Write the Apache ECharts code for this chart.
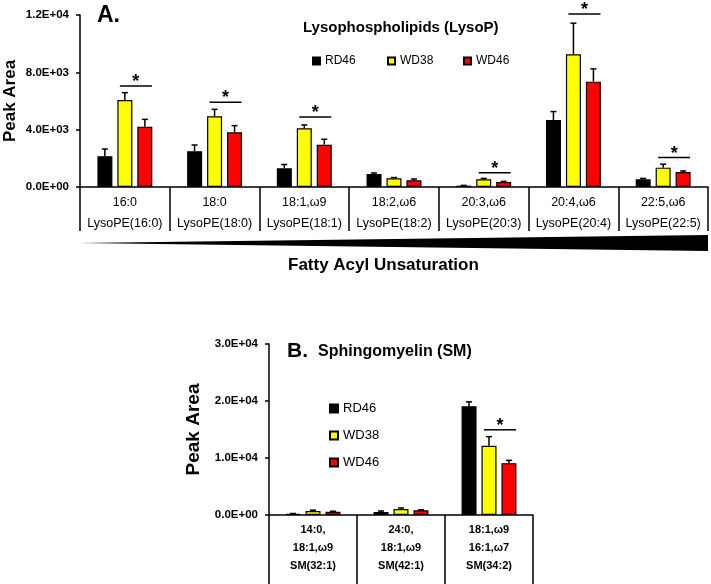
<!DOCTYPE html>
<html>
<head>
<meta charset="utf-8">
<script src="https://cdn.jsdelivr.net/npm/echarts@6/dist/echarts.min.js"></script>
<style>
  html, body { margin: 0; padding: 0; background: #fff; }
  #chart { width: 711px; height: 584px; }
</style>
</head>
<body>
<div id="chart"></div>
<script>
// panel A - lysophospholipids
const lysoAcyl = ['16:0', '18:0', '18:1,ω9', '18:2,ω6', '20:3,ω6', '20:4,ω6', '22:5,ω6'];
const lysoNames = ['LysoPE(16:0)', 'LysoPE(18:0)', 'LysoPE(18:1)', 'LysoPE(18:2)', 'LysoPE(20:3)', 'LysoPE(20:4)', 'LysoPE(22:5)'];
const lysoRD46 = [2150, 2500, 1300, 900, 90, 4680, 540];
const lysoRD46Err = [500, 430, 270, 80, 20, 580, 60];
const lysoWD38 = [6070, 4930, 4100, 610, 540, 9260, 1350];
const lysoWD38Err = [510, 490, 230, 50, 60, 2170, 240];
const lysoWD46 = [4210, 3820, 2950, 470, 350, 7350, 1050];
const lysoWD46Err = [510, 460, 380, 90, 40, 890, 70];
// [category index, height of the bracket]
const lysoSig = [[0, 7050], [1, 5910], [2, 4890], [4, 1000], [5, 12070], [6, 2050]];

// panel B - sphingomyelin
const smAcyl1 = ['14:0,', '24:0,', '18:1,ω9'];
const smAcyl2 = ['18:1,ω9', '18:1,ω9', '16:1,ω7'];
const smNames = ['SM(32:1)', 'SM(42:1)', 'SM(34:2)'];
const smRD46 = [200, 530, 19100];
const smRD46Err = [60, 170, 750];
const smWD38 = [700, 1050, 12150];
const smWD38Err = [150, 180, 1600];
const smWD46 = [580, 820, 9100];
const smWD46Err = [80, 90, 480];
const smSig = [[2, 14950]];

const groups = ['RD46', 'WD38', 'WD46'];
const colors = ['#000000', '#ffff00', '#ff0000'];
const offsets = [-20, 0, 20];
const font = 'Liberation Sans, Arial, sans-serif';

function sciLabel(v) {
    let parts = v.toExponential(1).split('e');
    let e = parseInt(parts[1], 10);
    let sign = e < 0 ? '-' : '+';
    e = Math.abs(e);
    return parts[0] + 'E' + sign + (e < 10 ? '0' + e : e);
}

function errData(vals, errs) {
    return vals.map((v, i) => [i, v, v + errs[i]]);
}

function errSeries(name, xi, vals, errs, offset) {
    return {
        name: name,
        type: 'custom',
        xAxisIndex: xi,
        yAxisIndex: xi,
        z: 5,
        silent: true,
        renderItem: function (params, api) {
            let base = api.coord([api.value(0), api.value(1)]);
            let top = api.coord([api.value(0), api.value(2)]);
            let x = base[0] + offset;
            let st = { stroke: '#000', lineWidth: 1.5 };
            return {
                type: 'group',
                children: [
                    { type: 'line', shape: { x1: x, y1: base[1], x2: x, y2: top[1] }, style: st },
                    { type: 'line', shape: { x1: x - 3, y1: top[1], x2: x + 3, y2: top[1] }, style: st }
                ]
            };
        },
        data: errData(vals, errs)
    };
}

function sigSeries(name, xi, data) {
    return {
        name: name,
        type: 'custom',
        xAxisIndex: xi,
        yAxisIndex: xi,
        z: 6,
        clip: false,
        silent: true,
        renderItem: function (params, api) {
            let p = api.coord([api.value(0), api.value(1)]);
            return {
                type: 'group',
                children: [
                    { type: 'line', shape: { x1: p[0] - 5, y1: p[1], x2: p[0] + 27, y2: p[1] }, style: { stroke: '#000', lineWidth: 1.5 } },
                    { type: 'text', style: { x: p[0] + 11, y: p[1] - 4, text: '*', font: 'bold 18px ' + font, fill: '#000', align: 'center', verticalAlign: 'middle' } }
                ]
            };
        },
        data: data
    };
}

function barSeries(gi, xi, vals) {
    return {
        name: groups[gi],
        type: 'bar',
        xAxisIndex: xi,
        yAxisIndex: xi,
        barWidth: 15,
        barGap: '33%',
        itemStyle: { color: colors[gi], borderColor: '#000', borderWidth: 1.2 },
        data: vals
    };
}

function yAxisCfg(gi, max, interval, nameGap, nameSize) {
    return {
        type: 'value',
        gridIndex: gi,
        min: 0,
        max: max,
        interval: interval,
        name: 'Peak Area',
        nameLocation: 'middle',
        nameGap: nameGap,
        nameMoveOverlap: false,
        nameTextStyle: { fontFamily: font, fontWeight: 'bold', fontSize: nameSize, color: '#000' },
        axisLine: { show: true, lineStyle: { color: '#000', width: 1.5 } },
        axisTick: { show: true, length: 4, lineStyle: { color: '#000', width: 1.5 } },
        splitLine: { show: false },
        axisLabel: { margin: 11, formatter: sciLabel, fontFamily: font, fontWeight: 'bold', fontSize: 11.5, color: '#000' }
    };
}

let myChart = echarts.init(document.getElementById('chart'));
let option = {
    backgroundColor: '#fff',
    animation: false,
    title: [
        { text: 'A.', left: 97, top: 4, padding: 0, textStyle: { fontFamily: font, fontWeight: 'bold', fontSize: 23, color: '#000' } },
        { text: 'Lysophospholipids (LysoP)', left: 303, top: 20, padding: 0, textStyle: { fontFamily: font, fontWeight: 'bold', fontSize: 15, color: '#000' } },
        { text: 'Fatty Acyl Unsaturation', left: 288, top: 257, padding: 0, textStyle: { fontFamily: font, fontWeight: 'bold', fontSize: 17, color: '#000' } },
        { text: 'B.', left: 287, top: 341, padding: 0, textStyle: { fontFamily: font, fontWeight: 'bold', fontSize: 21, color: '#000' } },
        { text: 'Sphingomyelin (SM)', left: 318, top: 344, padding: 0, textStyle: { fontFamily: font, fontWeight: 'bold', fontSize: 16, color: '#000' } }
    ],
    legend: [
        { data: ['RD46'], left: 312, top: 55, padding: 0, itemWidth: 7, itemHeight: 7, icon: 'rect', textStyle: { fontFamily: font, fontSize: 12, color: '#000' } },
        { data: ['WD38'], left: 387, top: 55, padding: 0, itemWidth: 7, itemHeight: 7, icon: 'rect', textStyle: { fontFamily: font, fontSize: 12, color: '#000' } },
        { data: ['WD46'], left: 463, top: 55, padding: 0, itemWidth: 7, itemHeight: 7, icon: 'rect', textStyle: { fontFamily: font, fontSize: 12, color: '#000' } },
        { data: groups, left: 329, top: 402, orient: 'vertical', itemGap: 14, padding: 0, itemWidth: 8, itemHeight: 8, icon: 'rect', textStyle: { fontFamily: font, fontSize: 13, color: '#000' } }
    ],
    grid: [
        { left: 80, top: 15, width: 628, height: 172, containLabel: false, outerBoundsMode: 'none' },
        { left: 269, top: 344, width: 264, height: 171, containLabel: false, outerBoundsMode: 'none' }
    ],
    xAxis: [
        {
            type: 'category',
            gridIndex: 0,
            data: lysoAcyl.map((a, i) => a + '\n' + lysoNames[i]),
            axisLine: { lineStyle: { color: '#000', width: 1.5 } },
            axisTick: { show: true, length: 44, interval: 0, lineStyle: { color: '#000', width: 1.5 } },
            axisLabel: { interval: 0, margin: 5, lineHeight: 21, fontFamily: font, fontSize: 12.5, color: '#000' }
        },
        {
            type: 'category',
            gridIndex: 1,
            data: smNames.map((n, i) => smAcyl1[i] + '\n' + smAcyl2[i] + '\n' + n),
            axisLine: { lineStyle: { color: '#000', width: 1.5 } },
            axisTick: { show: true, length: 70, interval: 0, lineStyle: { color: '#000', width: 1.5 } },
            axisLabel: { interval: 0, margin: 6, lineHeight: 18, fontFamily: font, fontWeight: 'bold', fontSize: 11, color: '#000' }
        }
    ],
    yAxis: [
        yAxisCfg(0, 12000, 4000, 61, 17),
        yAxisCfg(1, 30000, 10000, 66, 19)
    ],
    graphic: [
        // wedge under the categories
        { type: 'polygon', shape: { points: [[80, 243], [708, 235], [708, 251]] }, style: { fill: '#000' } }
    ],
    series: [
        barSeries(0, 0, lysoRD46),
        barSeries(1, 0, lysoWD38),
        barSeries(2, 0, lysoWD46),
        errSeries('errA0', 0, lysoRD46, lysoRD46Err, offsets[0]),
        errSeries('errA1', 0, lysoWD38, lysoWD38Err, offsets[1]),
        errSeries('errA2', 0, lysoWD46, lysoWD46Err, offsets[2]),
        sigSeries('sigA', 0, lysoSig),
        barSeries(0, 1, smRD46),
        barSeries(1, 1, smWD38),
        barSeries(2, 1, smWD46),
        errSeries('errB0', 1, smRD46, smRD46Err, offsets[0]),
        errSeries('errB1', 1, smWD38, smWD38Err, offsets[1]),
        errSeries('errB2', 1, smWD46, smWD46Err, offsets[2]),
        sigSeries('sigB', 1, smSig)
    ]
};
myChart.setOption(option);
</script>
</body>
</html>
